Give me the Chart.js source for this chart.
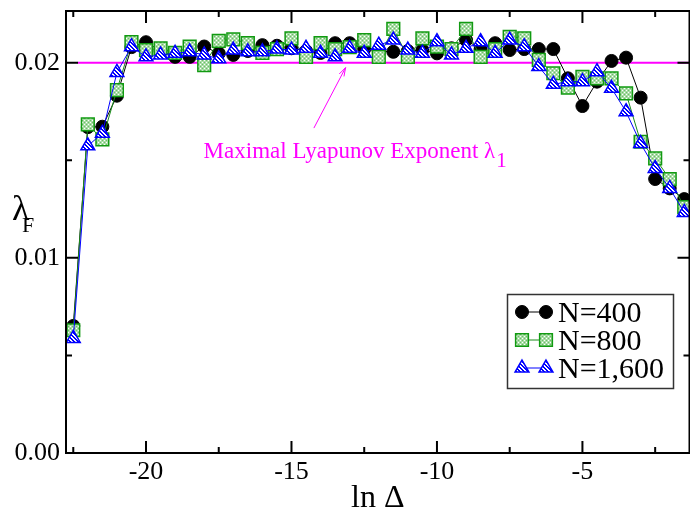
<!DOCTYPE html>
<html>
<head>
<meta charset="utf-8">
<script src="https://cdn.jsdelivr.net/npm/chart.js@4.4.1/dist/chart.umd.min.js"></script>
<style>
  html, body { margin: 0; padding: 0; overflow: hidden; background: #fff; }
  #wrap { width: 700px; height: 510px; }
</style>
</head>
<body>
<div id="wrap"><canvas id="graph" width="700" height="510"></canvas></div>
<script>
// ln(Delta) sample points
const lnDelta = [-22.5, -22, -21.5, -21, -20.5, -20, -19.5, -19, -18.5, -18, -17.5, -17, -16.5, -16, -15.5,
  -15, -14.5, -14, -13.5, -13, -12.5, -12, -11.5, -11, -10.5, -10, -9.5, -9, -8.5, -8, -7.5, -7,
  -6.5, -6, -5.5, -5, -4.5, -4, -3.5, -3, -2.5, -2, -1.5];

// finite-size exponent lambda_F for each system size
const lambdaN400 = [0.00651, 0.0167, 0.01672, 0.01831, 0.0208, 0.02105, 0.0206, 0.0203, 0.0203, 0.02083,
  0.02048, 0.0204, 0.0206, 0.0209, 0.02087, 0.02074, 0.0206, 0.0205, 0.0210, 0.0210, 0.0207, 0.0206,
  0.02056, 0.0206, 0.02065, 0.02048, 0.02074, 0.02116, 0.0207, 0.0210, 0.02065, 0.0207, 0.0207, 0.0207,
  0.0192, 0.01778, 0.01903, 0.02009, 0.02026, 0.01821, 0.01404, 0.01356, 0.01301];
const lambdaN800 = [0.00629, 0.01684, 0.01607, 0.0186, 0.02105, 0.02065, 0.02074, 0.0205, 0.02082, 0.01988,
  0.02112, 0.0212, 0.0210, 0.0205, 0.0207, 0.02125, 0.0203, 0.0210, 0.0207, 0.0208, 0.02116, 0.0203,
  0.02173, 0.0203, 0.02125, 0.02082, 0.0207, 0.02173, 0.0203, 0.0207, 0.02133, 0.02125, 0.02014, 0.01946,
  0.01872, 0.01928, 0.0192, 0.0192, 0.01843, 0.01595, 0.0151, 0.01404, 0.0126];
const lambdaN1600 = [0.00587, 0.01574, 0.01638, 0.0195, 0.02082, 0.0203, 0.0204, 0.02048, 0.02056, 0.0204,
  0.0202, 0.02065, 0.02056, 0.02056, 0.0207, 0.02065, 0.02074, 0.02048, 0.0203, 0.02074, 0.02048, 0.0209,
  0.02116, 0.02065, 0.02048, 0.02108, 0.0204, 0.02074, 0.02108, 0.02048, 0.02116, 0.02082, 0.0198, 0.01889,
  0.01903, 0.01903, 0.01954, 0.01869, 0.01749, 0.01586, 0.01458, 0.01356, 0.01233];

const seriesNames = ['N=400', 'N=800', 'N=1,600'];

// maximal Lyapunov exponent and the x-span of its reference line
const lambda1 = 0.02;
const lambda1Span = [-22.35, -1.3];

// annotation: label anchor and arrow (data units)
const noteText = 'Maximal Lyapunov Exponent \u03bb';
const noteSub = '1';
const noteAt = [-18.02, 0.0151];
const arrowFrom = [-14.23, 0.01665];
const arrowTo = [-13.14, 0.01975];

// axis ranges and tick steps
const xRange = [-22.75, -1.32];
const yRange = [0, 0.02265];
const xStep = 5;
const yStep = 0.01;

const serif = "'Liberation Serif', 'Times New Roman', serif";

// fills for the square and triangle markers
function dotPattern() {
    const c = document.createElement('canvas');
    c.width = 4; c.height = 4;
    const g = c.getContext('2d');
    g.fillStyle = '#a9dca6'; g.fillRect(0, 0, 4, 4);
    g.fillStyle = '#ffffff'; g.fillRect(0, 0, 1, 1); g.fillRect(2, 2, 1, 1);
    g.fillStyle = '#6cbf68'; g.fillRect(2, 0, 1, 1); g.fillRect(0, 2, 1, 1);
    return g.createPattern(c, 'repeat');
}
function stripePattern() {
    const c = document.createElement('canvas');
    c.width = 4; c.height = 4;
    const g = c.getContext('2d');
    g.fillStyle = '#ffffff'; g.fillRect(0, 0, 4, 4);
    g.fillStyle = '#0000ff';
    for (let i = 0; i < 4; i++) {
        g.fillRect(i, i, 1, 1);
        g.fillRect((i + 1) % 4, i, 1, 1);
    }
    return g.createPattern(c, 'repeat');
}

const markerStyles = [
    { shape: 'circle', r: 6.5, fill: '#000000', stroke: '#000000', lw: 1, line: '#000000' },
    { shape: 'rect', r: 9, fill: dotPattern(), stroke: '#119a11', lw: 1.5, line: '#1a8c1a' },
    { shape: 'triangle', r: 8, fill: stripePattern(), stroke: '#0000ff', lw: 1.5, line: '#0000ff' }
];

const toPoints = (ys) => lnDelta.map((x, i) => ({ x: x, y: ys[i] }));

function seriesDataset(idx, values, order) {
    const s = markerStyles[idx];
    return {
        label: seriesNames[idx],
        data: toPoints(values),
        order: order,
        borderColor: s.line,
        borderWidth: 1,
        tension: 0,
        pointStyle: s.shape,
        pointRadius: s.r,
        pointHoverRadius: s.r,
        pointBackgroundColor: s.fill,
        pointBorderColor: s.stroke,
        pointBorderWidth: s.lw
    };
}

function drawMarker(ctx, s, x, y) {
    ctx.save();
    ctx.fillStyle = s.fill;
    ctx.strokeStyle = s.stroke;
    ctx.lineWidth = s.lw;
    ctx.beginPath();
    if (s.shape === 'circle') {
        ctx.arc(x, y, s.r, 0, Math.PI * 2);
    } else if (s.shape === 'rect') {
        const h = s.r * Math.SQRT1_2;
        ctx.rect(x - h, y - h, 2 * h, 2 * h);
    } else {
        const w = s.r * Math.sin(Math.PI / 3);
        ctx.moveTo(x, y - s.r);
        ctx.lineTo(x + w, y + s.r / 2);
        ctx.lineTo(x - w, y + s.r / 2);
        ctx.closePath();
    }
    ctx.fill();
    ctx.stroke();
    ctx.restore();
}

// frame, inward ticks, y title, annotation and legend
const decorations = {
    id: 'decorations',
    afterDraw(chart) {
        const ctx = chart.ctx;
        const a = chart.chartArea;
        const xs = chart.scales.x, ys = chart.scales.y;

        ctx.save();
        ctx.strokeStyle = '#000';
        ctx.lineWidth = 2;
        ctx.strokeRect(a.left, a.top, a.right - a.left, a.bottom - a.top);

        const minors = (scale, step) => {
            const first = scale.ticks[0].value;
            const out = [];
            const k0 = Math.ceil((scale.min - first - step / 2) / step);
            const k1 = Math.floor((scale.max - first - step / 2) / step);
            for (let k = k0; k <= k1; k++) out.push(first + step / 2 + k * step);
            return out;
        };
        const tickSet = (scale, step) => scale.ticks.map(t => [t.value, 12])
            .concat(minors(scale, step).map(v => [v, 6]));

        ctx.beginPath();
        tickSet(xs, xStep).forEach(([v, len]) => {
            const px = xs.getPixelForValue(v);
            ctx.moveTo(px, a.bottom); ctx.lineTo(px, a.bottom - len);
            ctx.moveTo(px, a.top); ctx.lineTo(px, a.top + len);
        });
        tickSet(ys, yStep).forEach(([v, len]) => {
            const py = ys.getPixelForValue(v);
            ctx.moveTo(a.left, py); ctx.lineTo(a.left + len, py);
            ctx.moveTo(a.right, py); ctx.lineTo(a.right - len, py);
        });
        ctx.stroke();

        // y title: lambda with subscript F
        ctx.fillStyle = '#000';
        ctx.textBaseline = 'alphabetic';
        ctx.textAlign = 'left';
        ctx.font = '36px ' + serif;
        ctx.fillText('\u03bb', 12, 220);
        ctx.font = '22px ' + serif;
        ctx.fillText('F', 22, 232);

        // magenta annotation
        ctx.fillStyle = '#ff00ff';
        ctx.strokeStyle = '#ff00ff';
        ctx.lineWidth = 1;
        const tx = xs.getPixelForValue(noteAt[0]);
        const ty = ys.getPixelForValue(noteAt[1]);
        ctx.font = '23px ' + serif;
        ctx.fillText(noteText, tx, ty);
        const tw = ctx.measureText(noteText).width;
        ctx.font = '21px ' + serif;
        ctx.fillText(noteSub, tx + tw + 1, ty + 9);

        const x0 = xs.getPixelForValue(arrowFrom[0]), y0 = ys.getPixelForValue(arrowFrom[1]);
        const x1 = xs.getPixelForValue(arrowTo[0]), y1 = ys.getPixelForValue(arrowTo[1]);
        const ang = Math.atan2(y1 - y0, x1 - x0);
        ctx.beginPath();
        ctx.moveTo(x0, y0); ctx.lineTo(x1, y1);
        ctx.moveTo(x1 - 9 * Math.cos(ang - 0.3), y1 - 9 * Math.sin(ang - 0.3));
        ctx.lineTo(x1, y1);
        ctx.lineTo(x1 - 9 * Math.cos(ang + 0.3), y1 - 9 * Math.sin(ang + 0.3));
        ctx.stroke();

        // legend box
        const lx = 507.5, ly = 294.5, lw = 166, lh = 94;
        ctx.fillStyle = '#fff';
        ctx.fillRect(lx, ly, lw, lh);
        ctx.strokeStyle = '#333';
        ctx.lineWidth = 1.5;
        ctx.strokeRect(lx, ly, lw, lh);
        seriesNames.forEach((name, i) => {
            const s = markerStyles[i];
            const cy = 312 + 28 * i;
            ctx.strokeStyle = s.line;
            ctx.lineWidth = 1;
            ctx.beginPath();
            ctx.moveTo(522, cy); ctx.lineTo(546, cy);
            ctx.stroke();
            drawMarker(ctx, s, 522, cy);
            drawMarker(ctx, s, 546, cy);
            ctx.fillStyle = '#000';
            ctx.font = '30px ' + serif;
            ctx.fillText(name, 558, cy + 10);
        });
        ctx.restore();
    }
};

new Chart(document.getElementById('graph'), {
    type: 'line',
    data: {
        datasets: [
            seriesDataset(2, lambdaN1600, 1),
            seriesDataset(1, lambdaN800, 2),
            seriesDataset(0, lambdaN400, 3),
            {
                label: 'lambda1',
                data: lambda1Span.map(x => ({ x: x, y: lambda1 })),
                order: 4,
                borderColor: '#ff00ff',
                borderWidth: 2,
                pointRadius: 0
            }
        ]
    },
    options: {
        responsive: false,
        animation: false,
        layout: { padding: { top: 11, right: 4, left: 0, bottom: 0 } },
        plugins: { legend: { display: false }, tooltip: { enabled: false } },
        scales: {
            x: {
                type: 'linear',
                min: xRange[0],
                max: xRange[1],
                grid: { display: false, drawTicks: false },
                border: { display: false },
                ticks: {
                    stepSize: xStep,
                    includeBounds: false,
                    autoSkip: false,
                    maxRotation: 0,
                    padding: 4,
                    color: '#000',
                    font: { family: serif, size: 26 }
                },
                title: {
                    display: true,
                    text: 'ln \u0394',
                    color: '#000',
                    padding: 0,
                    font: { family: serif, size: 32, lineHeight: 0.7 }
                },
                afterFit: (s) => { s.height = 57; s.paddingLeft = 0; s.paddingRight = 0; }
            },
            y: {
                min: yRange[0],
                max: yRange[1],
                grid: { display: false, drawTicks: false },
                border: { display: false },
                ticks: {
                    stepSize: yStep,
                    includeBounds: false,
                    padding: 6,
                    color: '#000',
                    font: { family: serif, size: 26 },
                    callback: (v) => v.toFixed(2)
                },
                afterFit: (s) => { s.width = 66; s.paddingTop = 0; s.paddingBottom = 0; }
            }
        }
    },
    plugins: [decorations]
});
</script>
</body>
</html>
